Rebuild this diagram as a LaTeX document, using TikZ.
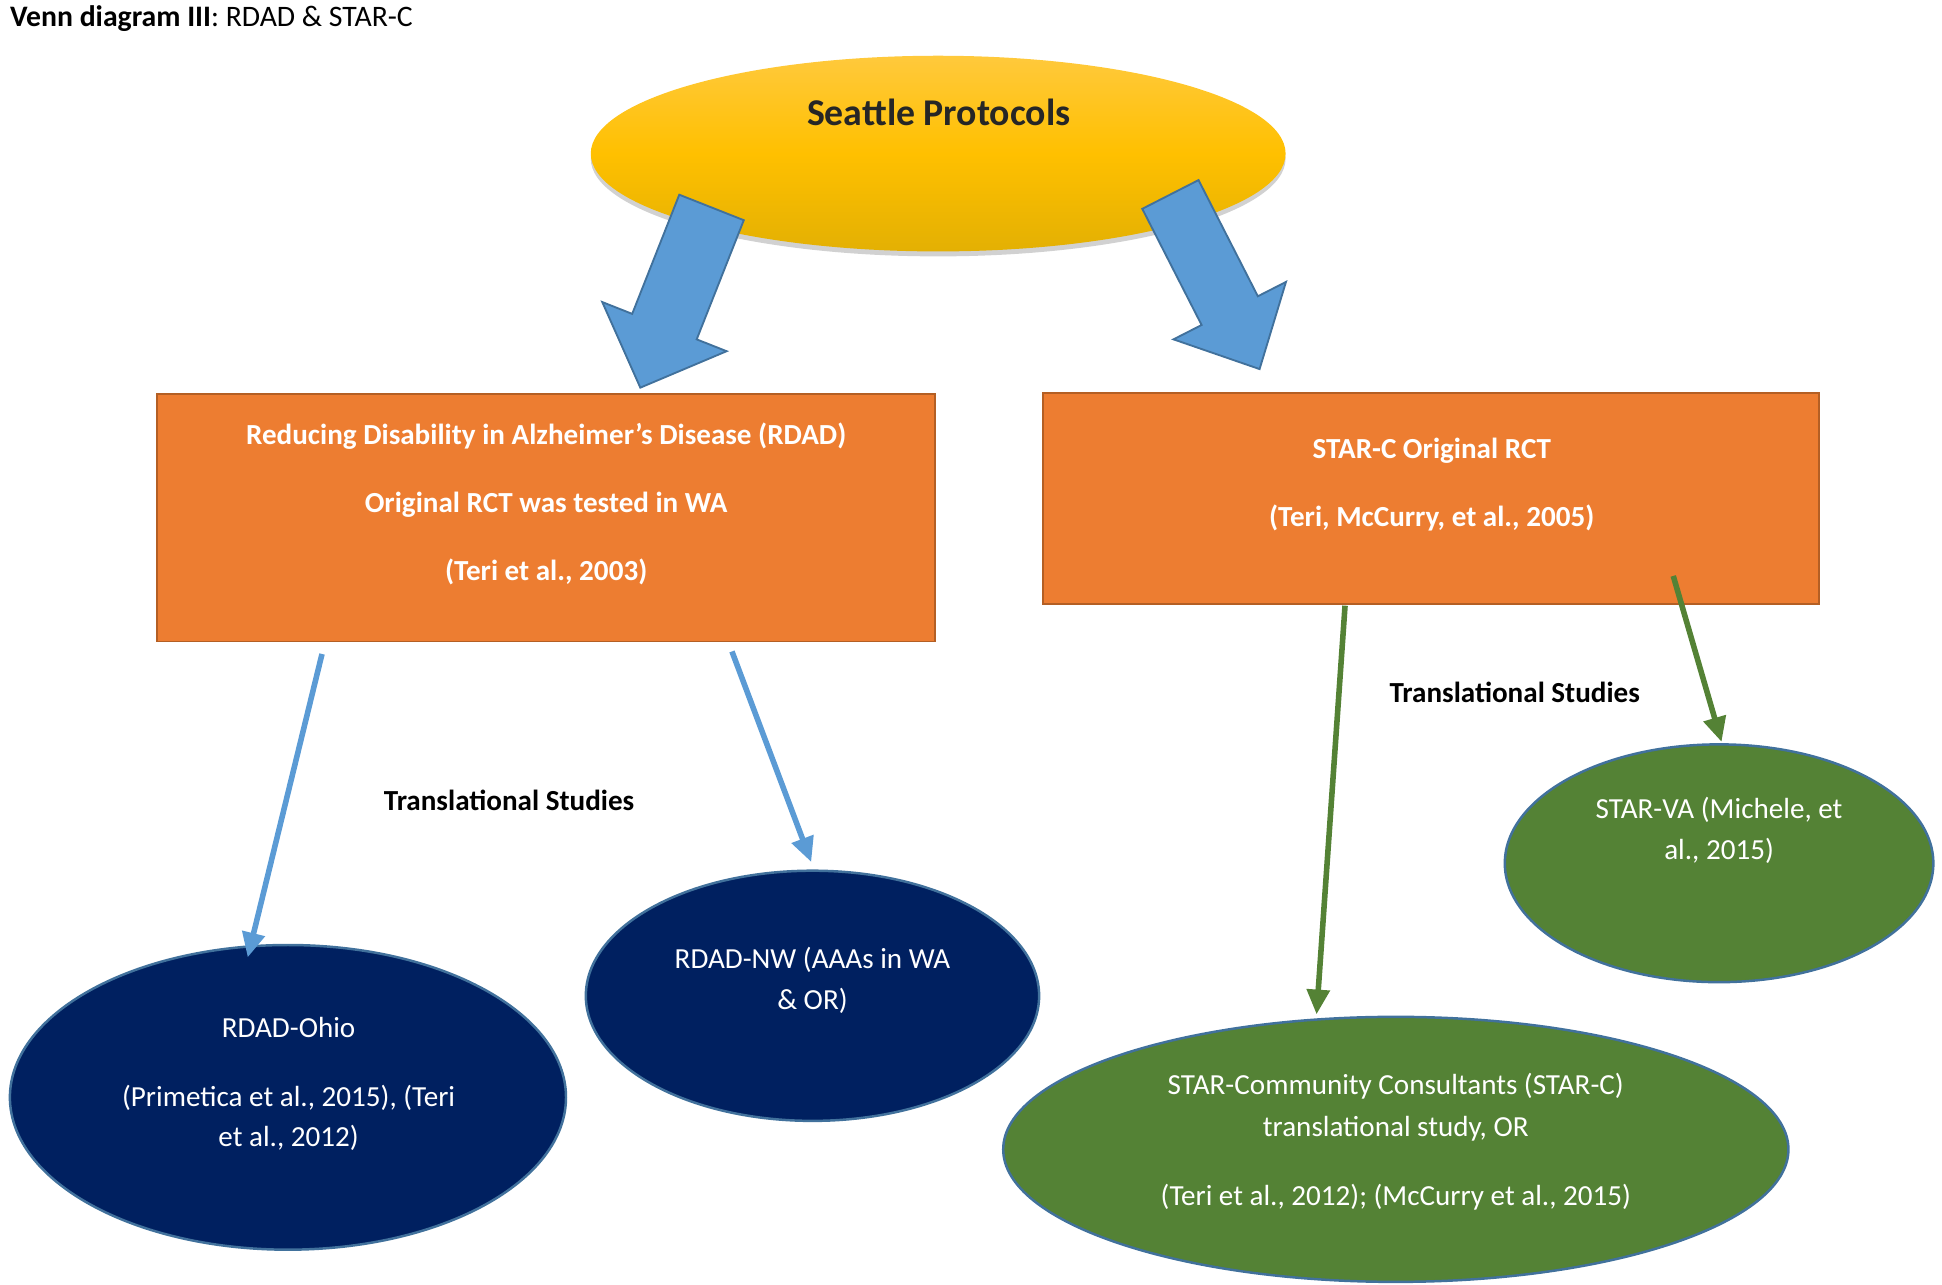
\documentclass[tikz,border=0pt]{standalone}
\usepackage{fontspec}
\setmainfont{Carlito}
\usetikzlibrary{arrows.meta,shapes.geometric,shadows,calc}

\definecolor{boxorange}{HTML}{ED7D31}
\definecolor{boxedge}{HTML}{B45F24}
\definecolor{navy}{HTML}{002060}
\definecolor{leaf}{HTML}{548235}
\definecolor{rim}{HTML}{41719C}
\definecolor{sky}{HTML}{5B9BD5}
\definecolor{goldtop}{HTML}{FFC93C}
\definecolor{goldmid}{HTML}{FFC000}
\definecolor{goldlow}{HTML}{E3B003}
\definecolor{ink}{HTML}{262626}

% block arrow: tail, tip, shaft half-width, head half-width, head length
\newcommand\blockarrow[5]{%
  \fill[sky,draw=rim,line width=1.5pt,line join=miter]
    ($(#1)!#3!90:(#2)$) --
    ($($(#2)!#5!(#1)$)!#3!-90:(#1)$) --
    ($($(#2)!#5!(#1)$)!#4!-90:(#1)$) --
    (#2) --
    ($($(#2)!#5!(#1)$)!#4!90:(#1)$) --
    ($($(#2)!#5!(#1)$)!#3!90:(#1)$) --
    ($(#1)!#3!-90:(#2)$) -- cycle;}

\begin{document}
\begin{tikzpicture}[x=1pt,y=-1pt,
  study/.style={rectangle,fill=boxorange,draw=boxedge,line width=1.5pt},
  offshoot/.style={ellipse,draw=rim,line width=2pt},
  boxtext/.style={anchor=base,text=white,font=\fontsize{23.5}{28}\selectfont\bfseries},
  ovaltext/.style={anchor=base,text=white,font=\fontsize{23.5}{28}\selectfont},
  headline/.style={anchor=base,text=black,font=\fontsize{23.5}{28}\selectfont\bfseries},
  bluelink/.style={draw=sky,line width=4.5pt,-{Triangle[length=20pt,width=18pt]}},
  greenlink/.style={draw=leaf,line width=4.5pt,-{Triangle[length=20pt,width=18pt]}}]

\useasboundingbox (0,0) rectangle (1568,1037);

% title
\node[anchor=base west,inner sep=0pt,font=\fontsize{24}{28}\selectfont] (title) at (8,21)
  {\textbf{Venn diagram III}: RDAD \& STAR-C};

% source protocol
\node[ellipse,minimum width=561pt,minimum height=158pt,inner sep=0pt,
  top color=goldtop,bottom color=goldlow,middle color=goldmid,
  drop shadow={shadow xshift=0pt,shadow yshift=-4pt,opacity=0.18,fill=black}]
  (seattle) at (757.5,124) {};
\node[anchor=base,text=ink,font=\fontsize{30.5}{34}\selectfont\bfseries] (seattletxt)
  at (758,101) {Seattle Protocols};

% original trials
\node[study,minimum width=628pt,minimum height=200pt] (rdad) at (441,418) {};
\node[study,minimum width=627pt,minimum height=171pt] (starc) at (1155.5,402.5) {};

\node[boxtext] (rdad1) at (441,359) {Reducing Disability in Alzheimer’s Disease (RDAD)};
\node[boxtext] (rdad2) at (441,414) {Original RCT was tested in WA};
\node[boxtext] (rdad3) at (441,469) {(Teri et al., 2003)};
\node[boxtext] (starc1) at (1156,370) {STAR-C Original RCT};
\node[boxtext] (starc2) at (1156,425) {(Teri, McCurry, et al., 2005)};

% block arrows from the protocols to the trials
\coordinate (ltail) at (574.5,167.5);
\coordinate (ltip)  at (517,313);
\coordinate (rtail) at (945,157);
\coordinate (rtip)  at (1017,298);
\blockarrow{ltail}{ltip}{28pt}{54pt}{53pt}
\blockarrow{rtail}{rtip}{25.5pt}{51pt}{53pt}

% translational studies
\node[offshoot,fill=navy,minimum width=449pt,minimum height=246pt] (ohio) at (232.5,886) {};
\node[offshoot,fill=navy,minimum width=366pt,minimum height=202pt] (nw) at (656,804) {};
\node[offshoot,fill=leaf,minimum width=346pt,minimum height=192pt] (va) at (1388,697) {};
\node[offshoot,fill=leaf,minimum width=634pt,minimum height=214pt] (comm) at (1127,928) {};

\node[ovaltext] (ohio1) at (233,838) {RDAD-Ohio};
\node[ovaltext] (ohio2) at (233,893) {(Primetica et al., 2015), (Teri};
\node[ovaltext] (ohio3) at (233,926) {et al., 2012)};
\node[ovaltext] (nw1) at (656,782) {RDAD-NW (AAAs in WA};
\node[ovaltext] (nw2) at (656,815) {\& OR)};
\node[ovaltext] (va1) at (1388,661) {STAR-VA (Michele, et};
\node[ovaltext] (va2) at (1388,694) {al., 2015)};
\node[ovaltext] (comm1) at (1127,884) {STAR-Community Consultants (STAR-C)};
\node[ovaltext] (comm2) at (1127,918) {translational study, OR};
\node[ovaltext] (comm3) at (1127,973) {(Teri et al., 2012); (McCurry et al., 2015)};

\node[headline] (transl) at (411,654) {Translational Studies};
\node[headline] (transr) at (1223,567) {Translational Studies};

% links to the translational studies
\coordinate (ohiofrom) at (260,528);
\coordinate (ohioto)   at (200,773);
\coordinate (nwfrom)   at (591,526);
\coordinate (nwto)     at (655,696);
\coordinate (commfrom) at (1086,489);
\coordinate (commto)   at (1063,819);
\coordinate (vafrom)   at (1351,465);
\coordinate (vato)     at (1390,599);

\draw[bluelink] (ohiofrom) -- (ohioto);
\draw[bluelink] (nwfrom) -- (nwto);
\draw[greenlink] (commfrom) -- (commto);
\draw[greenlink] (vafrom) -- (vato);

\end{tikzpicture}
\end{document}
